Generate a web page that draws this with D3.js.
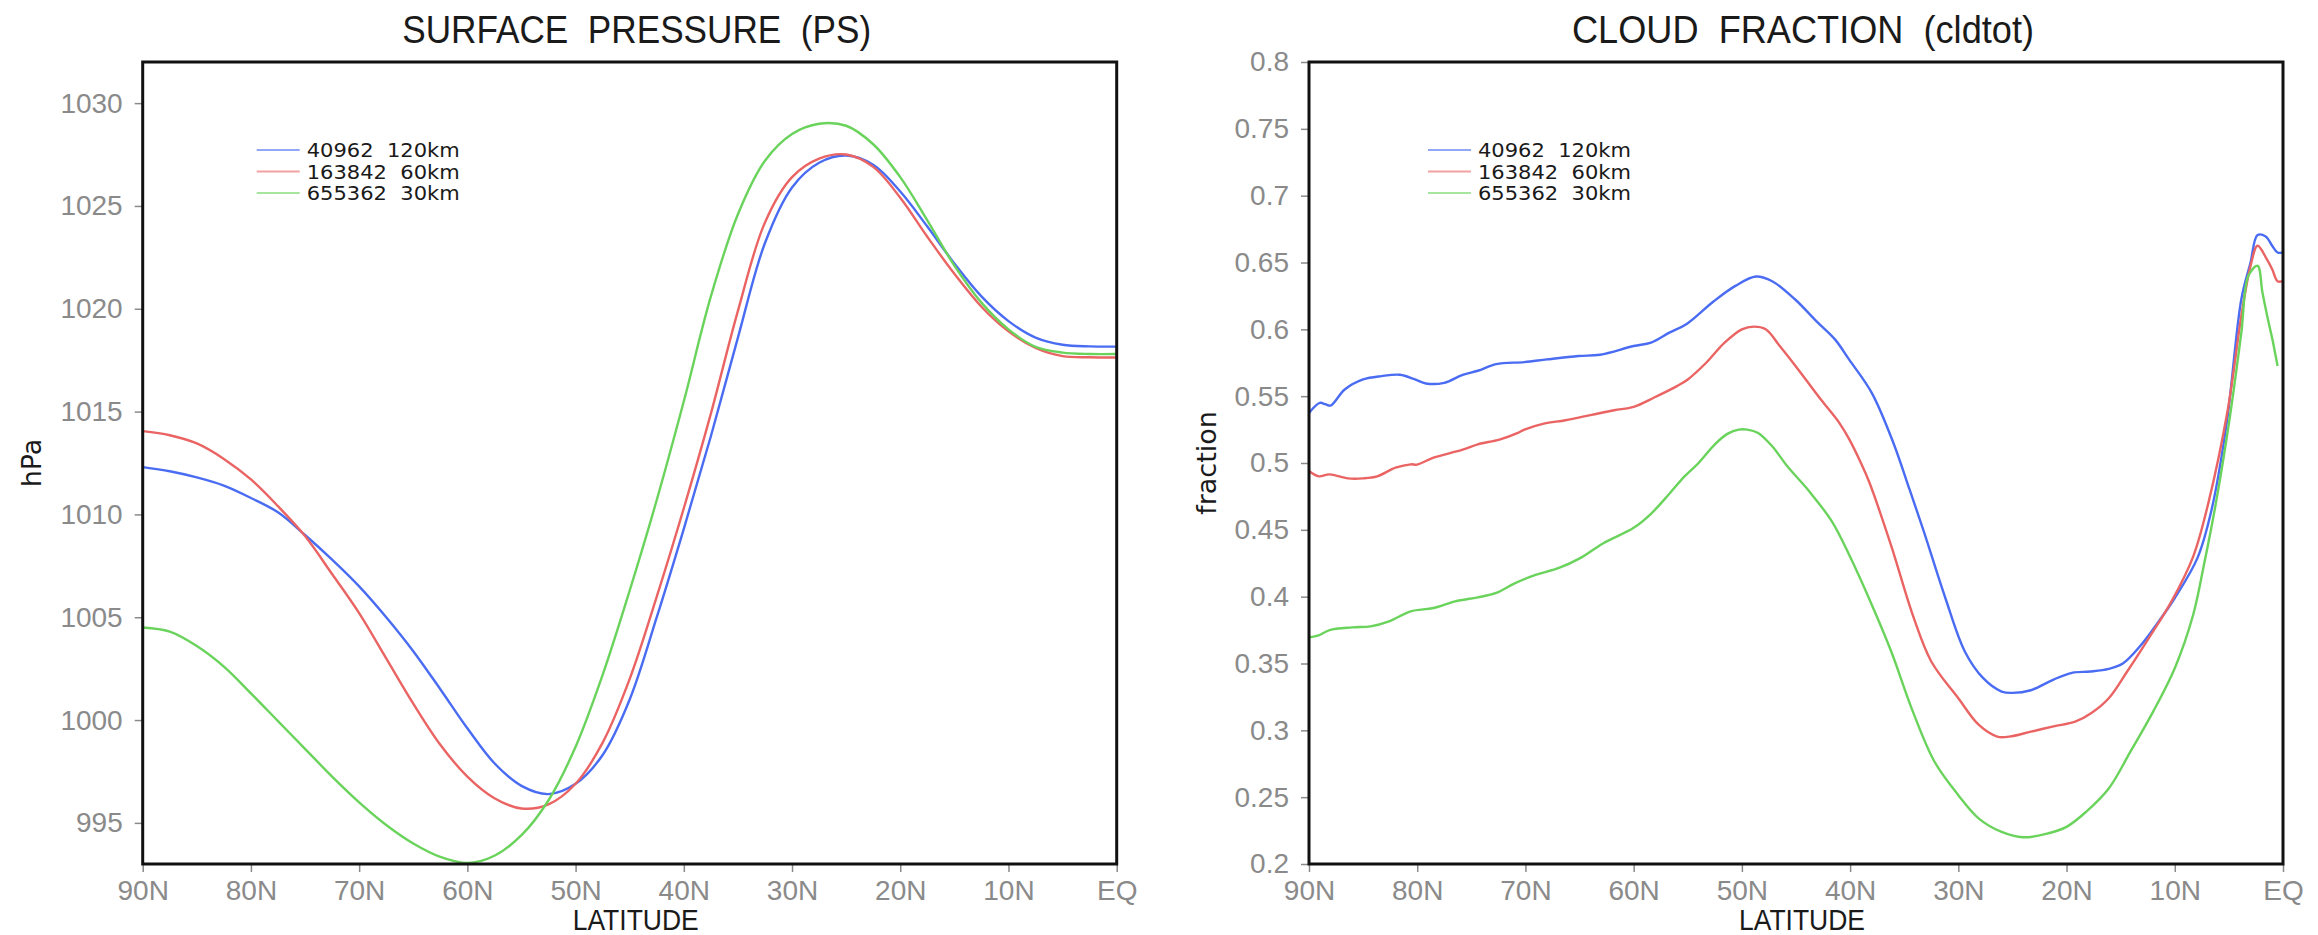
<!DOCTYPE html>
<html>
<head>
<meta charset="utf-8">
<script src="https://cdn.jsdelivr.net/npm/d3@7"></script>
<style>
  html, body { margin: 0; padding: 0; background: #fff; }
  svg { display: block; }
  .tick text { font-family: "Liberation Sans", Arial, sans-serif; font-size: 28px; fill: #8a8a8a; }
  .tick line { stroke: #8a8a8a; stroke-width: 1.5; }
</style>
</head>
<body>
<svg id="chart" width="2318" height="935"></svg>
<script>
  'use strict';

  // series
  const seriesNames = ['40962  120km', '163842  60km', '655362  30km'];
  const seriesColors = ['#4a6cf2', '#ea6464', '#6ad35c'];

  // x axis (latitude)
  const latTicks = [90, 80, 70, 60, 50, 40, 30, 20, 10, 0];
  const latLabels = ['90N', '80N', '70N', '60N', '50N', '40N', '30N', '20N', '10N', 'EQ'];

  // surface pressure panel
  const psTicks = [995, 1000, 1005, 1010, 1015, 1020, 1025, 1030];
  const psLat = [90, 87.5, 85, 82.5, 80, 77.5, 75, 72.5, 70, 67.5, 65, 62.5, 60, 57.5, 55, 52.5, 50,
    47.5, 45, 42.5, 40, 37.5, 35, 32.5, 30, 27.5, 25, 22.5, 20, 17.5, 15, 12.5, 10, 7.5, 5, 2.5, 0];
  const ps40962 = [1012.3, 1012.1, 1011.8, 1011.4, 1010.8, 1010.1, 1009.0, 1007.8, 1006.5, 1005.0, 1003.35,
    1001.5, 999.6, 997.9, 996.8, 996.4, 996.9, 998.3, 1001.0, 1005.0, 1009.3, 1013.8, 1018.6, 1023.2, 1025.9,
    1027.1, 1027.45, 1027.0, 1025.7, 1024.0, 1022.2, 1020.6, 1019.4, 1018.6, 1018.25, 1018.17, 1018.16];
  const ps163842 = [1014.05, 1013.85, 1013.45, 1012.7, 1011.7, 1010.4, 1008.95, 1007.1, 1005.2, 1003.0, 1000.8,
    998.8, 997.25, 996.2, 995.7, 995.9, 996.9, 998.9, 1002.0, 1006.0, 1010.3, 1014.9, 1019.9, 1024.2, 1026.4,
    1027.3, 1027.5, 1026.9, 1025.4, 1023.5, 1021.7, 1020.1, 1018.9, 1018.1, 1017.7, 1017.64, 1017.63];
  const ps655362 = [1004.5, 1004.3, 1003.6, 1002.6, 1001.3, 999.95, 998.6, 997.25, 996.0, 994.9, 994.0,
    993.35, 993.05, 993.4, 994.4, 996.1, 998.7, 1002.2, 1006.3, 1010.7, 1015.5, 1020.6, 1024.6, 1027.2, 1028.5,
    1029.0, 1028.9, 1028.0, 1026.4, 1024.3, 1022.1, 1020.3, 1019.0, 1018.15, 1017.87, 1017.8, 1017.8];

  // cloud fraction panel
  const cldTicks = [0.2, 0.25, 0.3, 0.35, 0.4, 0.45, 0.5, 0.55, 0.6, 0.65, 0.7, 0.75, 0.8];
  const cldLat40962 = [90, 89, 88.5, 88, 86.7, 85, 83.3, 81.6, 80.2, 79.2, 77.5, 75.8, 74.4, 72.7, 70.1, 68, 65.1,
    63.1, 60, 58.4, 56.7, 55.1, 52.6, 50.6, 48.7, 47.2, 45.1, 43.1, 41.4, 40.1, 38, 36, 34.5, 33.2, 31.2, 29.4,
    27.7, 26, 25, 23.3, 21.2, 19.5, 17.8, 16.1, 14.8, 13.1, 11.7, 10, 7.9, 6.6, 5.2, 3.85, 3, 2.35, 1.6, 1,
    0.5, 0];
  const cld40962 = [0.5375, 0.545, 0.544, 0.543, 0.555, 0.5625, 0.565, 0.566, 0.5625, 0.5595, 0.56, 0.566, 0.569,
    0.574, 0.5755, 0.5775, 0.58, 0.581, 0.5875, 0.59, 0.5975, 0.604, 0.621, 0.6325, 0.6395, 0.636, 0.6225, 0.606,
    0.5925, 0.5775, 0.5525, 0.515, 0.48, 0.449, 0.399, 0.359, 0.339, 0.329, 0.328, 0.33, 0.338, 0.343, 0.344,
    0.346, 0.35, 0.364, 0.379, 0.399, 0.429, 0.465, 0.53, 0.6225, 0.65, 0.6705, 0.6695, 0.6625,
    0.6575, 0.6575];
  const cldLat163842 = [90, 89.1, 88.1, 86.4, 85, 83.7, 82, 80.6, 80, 78.5, 75.8, 74.4, 72.4, 70.7, 70.1, 68.3, 66.3,
    63.9, 61.8, 60, 58.1, 56, 55, 53.3, 51.6, 50, 48.9, 47.8, 46.5, 44.8, 42.7, 41, 40.1, 39, 38.2, 36.2, 34.2,
    32.5, 30, 28.1, 26.4, 25.3, 23.3, 21.2, 19.2, 17.7, 16.1, 14.4, 12.4, 10.3, 8.3, 6.9, 5.1, 3.85, 3,
    2.35, 1.5, 1, 0.5, 0];
  const cld163842 = [0.494, 0.49, 0.4915, 0.4885, 0.4885, 0.49, 0.4965, 0.499, 0.4988, 0.504, 0.51, 0.514,
    0.5175, 0.5225, 0.525, 0.5295, 0.532, 0.536, 0.5395, 0.542, 0.549, 0.5575, 0.5625, 0.575, 0.59, 0.6, 0.602,
    0.6, 0.5875, 0.57, 0.5475, 0.53, 0.518, 0.5, 0.485, 0.438, 0.386, 0.3515, 0.324, 0.304, 0.2953,
    0.2953, 0.299, 0.303, 0.3065, 0.313, 0.324, 0.344, 0.369, 0.3965, 0.43, 0.47, 0.54, 0.61, 0.6475,
    0.6625, 0.6525, 0.645, 0.636, 0.636];
  const cldLat655362 = [90, 89.1, 88.1, 86, 84.3, 82.6, 80.6, 78.5, 76.5, 74.4, 72.7, 71, 69, 66.9, 64.9, 62.8, 60,
    58.4, 56.7, 55.3, 54, 52.5, 51.3, 50.3, 49.5, 48.5, 47.2, 45.8, 43.8, 41.7, 40.1, 38, 36.2, 34.2, 32.2,
    30, 28.1, 26, 24, 21.9, 20, 18.2, 16.1, 14.1, 12, 10, 8.3, 7.3, 6.2, 4.9, 3.85, 3.2, 2.35, 1.9, 1.46,
    0.98, 0.5];
  const cld655362 = [0.3695, 0.371, 0.375, 0.377, 0.3778, 0.3815, 0.389, 0.3915, 0.3965, 0.3995, 0.4028, 0.41,
    0.4165, 0.4215, 0.429, 0.44, 0.4515, 0.462, 0.477, 0.49, 0.5, 0.514, 0.522, 0.525, 0.525, 0.5225, 0.5125,
    0.4975, 0.479, 0.4565, 0.4315, 0.394, 0.359, 0.314, 0.2765, 0.2515, 0.234, 0.224, 0.22, 0.2225,
    0.2278, 0.239, 0.2565, 0.284, 0.314, 0.3465, 0.3865, 0.424, 0.47, 0.535, 0.5975, 0.64, 0.6475,
    0.6275, 0.61, 0.5925, 0.5725];

  const svg = d3.select('#chart');

  function zip(lats, vals) {
    return lats.map(function (lat, i) { return [lat, vals[i]]; });
  }

  function drawPanel(p) {
    const x = d3.scaleLinear().domain([90, 0]).range([p.left, p.right]);
    const y = d3.scaleLinear().domain(p.yDomain).range([p.bottom, p.top]);
    const g = svg.append('g');

    // clip
    g.append('clipPath').attr('id', p.id + '-clip')
      .append('rect')
      .attr('x', p.left).attr('y', p.top)
      .attr('width', p.right - p.left).attr('height', p.bottom - p.top);

    // axes
    g.append('g')
      .attr('transform', 'translate(0,' + p.bottom + ')')
      .call(d3.axisBottom(x).tickValues(latTicks)
        .tickFormat(function (d, i) { return latLabels[i]; })
        .tickSize(8).tickPadding(8))
      .call(function (a) { a.select('.domain').remove(); });

    g.append('g')
      .attr('transform', 'translate(' + p.left + ',0)')
      .call(d3.axisLeft(y).tickValues(p.yTicks)
        .tickFormat(p.yFormat)
        .tickSize(8).tickPadding(12))
      .call(function (a) { a.select('.domain').remove(); });

    // lines
    const line = d3.line()
      .x(function (d) { return x(d[0]); })
      .y(function (d) { return y(d[1]); })
      .curve(d3.curveCatmullRom.alpha(0.5));

    g.append('g').attr('clip-path', 'url(#' + p.id + '-clip)')
      .selectAll('path')
      .data(p.series)
      .enter()
      .append('path')
      .attr('d', line)
      .attr('fill', 'none')
      .attr('stroke', function (d, i) { return seriesColors[i]; })
      .attr('stroke-width', 2.4)
      .attr('stroke-linejoin', 'round');

    // frame
    g.append('rect')
      .attr('x', p.left).attr('y', p.top)
      .attr('width', p.right - p.left).attr('height', p.bottom - p.top)
      .attr('fill', 'none')
      .attr('stroke', '#111')
      .attr('stroke-width', 3);

    // legend
    const leg = g.append('g')
      .attr('transform', 'translate(' + (p.left + p.legendDx) + ',150)');
    seriesNames.forEach(function (name, i) {
      leg.append('line')
        .attr('x1', 0).attr('x2', 43)
        .attr('y1', i * 21.5).attr('y2', i * 21.5)
        .attr('stroke', seriesColors[i])
        .attr('stroke-opacity', 0.6)
        .attr('stroke-width', 2);
      leg.append('text')
        .attr('x', 50).attr('y', i * 21.5 + 7)
        .attr('font-family', '"DejaVu Sans", Verdana, sans-serif')
        .attr('font-size', 19)
        .attr('fill', '#1a1a1a')
        .style('white-space', 'pre')
        .attr('textLength', 153)
        .attr('lengthAdjust', 'spacingAndGlyphs')
        .text(name);
    });

    // titles
    const cx = (p.left + p.right) / 2 + 7;
    g.append('text')
      .attr('x', cx).attr('y', 43)
      .attr('text-anchor', 'middle')
      .attr('font-family', '"Liberation Sans Narrow", "Liberation Sans", Arial, sans-serif')
      .attr('font-size', 39)
      .attr('fill', '#1a1a1a')
      .style('white-space', 'pre')
      .attr('textLength', p.titleWidth)
      .attr('lengthAdjust', 'spacingAndGlyphs')
      .text(p.title);

    g.append('text')
      .attr('x', cx - 1).attr('y', 930)
      .attr('text-anchor', 'middle')
      .attr('font-family', '"Liberation Sans Narrow", "Liberation Sans", Arial, sans-serif')
      .attr('font-size', 30)
      .attr('fill', '#1a1a1a')
      .attr('textLength', 126)
      .attr('lengthAdjust', 'spacingAndGlyphs')
      .text('LATITUDE');

    g.append('text')
      .attr('transform', 'translate(' + p.yLabelX + ',' + ((p.top + p.bottom) / 2) + ') rotate(-90)')
      .attr('text-anchor', 'middle')
      .attr('dy', '0.35em')
      .attr('font-family', '"DejaVu Sans", Verdana, sans-serif')
      .attr('font-size', 27)
      .attr('fill', '#1a1a1a')
      .text(p.yLabel);
  }

  drawPanel({
    id: 'ps',
    left: 142.7, right: 1116.7, top: 62, bottom: 864,
    yDomain: [993, 1032],
    yTicks: psTicks,
    yFormat: d3.format('d'),
    series: [zip(psLat, ps40962), zip(psLat, ps163842), zip(psLat, ps655362)],
    legendDx: 114,
    title: 'SURFACE  PRESSURE  (PS)',
    titleWidth: 469,
    yLabel: 'hPa',
    yLabelX: 32
  });

  drawPanel({
    id: 'cld',
    left: 1309, right: 2283, top: 62, bottom: 864,
    yDomain: [0.2, 0.8],
    yTicks: cldTicks,
    yFormat: function (d) { return String(+d.toFixed(2)); },
    series: [zip(cldLat40962, cld40962), zip(cldLat163842, cld163842), zip(cldLat655362, cld655362)],
    legendDx: 119,
    title: 'CLOUD  FRACTION  (cldtot)',
    titleWidth: 462,
    yLabel: 'fraction',
    yLabelX: 1207
  });
</script>
</body>
</html>
